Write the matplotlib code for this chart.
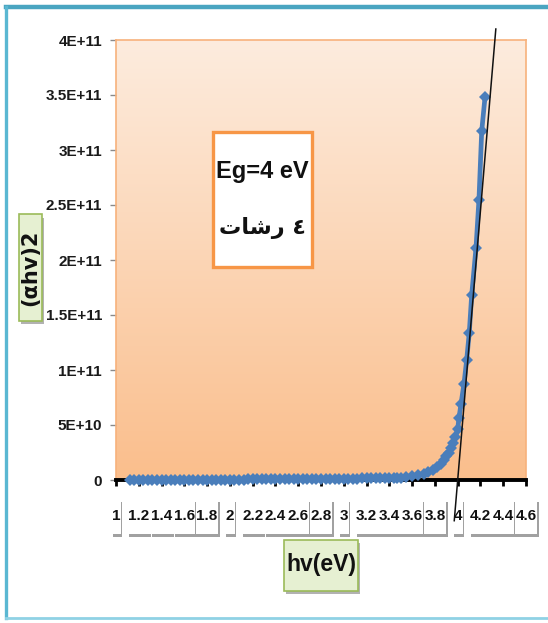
import numpy as np
import matplotlib
matplotlib.use("Agg")
import matplotlib.pyplot as plt
import matplotlib.font_manager as fm
import matplotlib.patheffects as pe
from matplotlib.path import Path
from matplotlib.patches import Rectangle
from matplotlib.lines import Line2D
from matplotlib import transforms

# ---- data -------------------------------------------------------------
photon_energy_ev = [
    1.12, 1.16, 1.20, 1.24, 1.28, 1.32, 1.36, 1.40, 1.44, 1.48,
    1.52, 1.56, 1.60, 1.64, 1.68, 1.72, 1.76, 1.80, 1.84, 1.88,
    1.92, 1.96, 2.00, 2.04, 2.08, 2.12, 2.16, 2.20, 2.24, 2.28,
    2.32, 2.36, 2.40, 2.44, 2.48, 2.52, 2.56, 2.60, 2.64, 2.68,
    2.72, 2.76, 2.80, 2.84, 2.88, 2.92, 2.96, 3.00, 3.04, 3.08,
    3.12, 3.16, 3.20, 3.24, 3.28, 3.32, 3.36, 3.40, 3.44, 3.47,
    3.50, 3.55, 3.60, 3.65, 3.70, 3.74, 3.78, 3.82, 3.85, 3.88,
    3.90, 3.92, 3.94, 3.96, 3.98, 4.00, 4.011, 4.029, 4.055, 4.079,
    4.102, 4.123, 4.161, 4.187, 4.211, 4.240,
]
alpha_hv_squared = [
    3.0e8, 3.0e8, 3.0e8, 3.0e8, 3.0e8, 3.0e8, 3.0e8, 3.0e8, 3.0e8, 3.0e8,
    3.0e8, 3.0e8, 3.0e8, 3.0e8, 3.0e8, 3.0e8, 3.5e8, 3.5e8, 3.5e8, 3.5e8,
    4.0e8, 4.0e8, 4.0e8, 4.5e8, 4.5e8, 4.5e8, 5.0e8, 5.0e8, 5.0e8, 5.5e8,
    5.5e8, 6.0e8, 6.0e8, 6.5e8, 6.5e8, 7.0e8, 7.0e8, 7.5e8, 7.5e8, 8.0e8,
    8.5e8, 9.0e8, 9.5e8, 1.0e9, 1.0e9, 1.1e9, 1.1e9, 1.2e9, 1.2e9, 1.3e9,
    1.3e9, 1.4e9, 1.4e9, 1.5e9, 1.5e9, 1.6e9, 1.7e9, 1.8e9, 1.9e9, 2.0e9,
    2.1e9, 2.6e9, 3.3e9, 4.2e9, 5.5e9, 7.0e9, 9.0e9, 1.15e10, 1.45e10, 1.85e10,
    2.15e10, 2.5e10, 2.95e10, 3.4e10, 3.9e10, 4.6e10, 5.6e10, 6.9e10, 8.7e10, 1.09e11,
    1.34e11, 1.68e11, 2.11e11, 2.55e11, 3.17e11, 3.48e11,
]

# linear fit of the absorption edge (extrapolated to the energy axis)
tangent_hv = [3.97, 4.335]
tangent_val = [-3.7e10, 4.10e11]

x_ticks = [1.0, 1.2, 1.4, 1.6, 1.8, 2.0, 2.2, 2.4, 2.6, 2.8,
           3.0, 3.2, 3.4, 3.6, 3.8, 4.0, 4.2, 4.4, 4.6]
x_tick_labels = ["1", "1.2", "1.4", "1.6", "1.8", "2", "2.2", "2.4", "2.6", "2.8",
                 "3", "3.2", "3.4", "3.6", "3.8", "4", "4.2", "4.4", "4.6"]
y_ticks = [0, 5e10, 1e11, 1.5e11, 2e11, 2.5e11, 3e11, 3.5e11, 4e11]
y_tick_labels = ["0", "5E+10", "1E+11", "1.5E+11", "2E+11", "2.5E+11",
                 "3E+11", "3.5E+11", "4E+11"]

gap_text = "Eg=4 eV"
# "٤ رشات" written in shaped presentation forms, laid out left to right
coats_text = "\uFE95\uFE8E\uFEB7\uFEAD \u0664"
x_title = "hv(eV)"
y_title = "(\u03b1hv)2"

# ---- fonts ------------------------------------------------------------
available = {f.name for f in fm.fontManager.ttflist}
label_family = "Liberation Sans" if "Liberation Sans" in available else "DejaVu Sans"


def lfp(size):
    return fm.FontProperties(family=label_family, weight="bold", size=size)


def make_box(padx, pady):
    """Rectangular text box with separate horizontal/vertical padding (pixels)."""
    def box(x0, y0, width, height, mutation_size):
        xa, xb = x0 - padx, x0 + width + padx
        ya, yb = y0 - pady, y0 + height + pady
        return Path([(xa, ya), (xb, ya), (xb, yb), (xa, yb), (xa, ya)], closed=True)
    return box


W, H = 548, 623
fig = plt.figure(figsize=(W / 100, H / 100), dpi=100)
fig.patch.set_facecolor("white")

ax = fig.add_axes([116 / W, 1 - 480 / H, 410 / W, 440 / H])

# gradient plot area
top_c = np.array([253, 236, 222]) / 255
bot_c = np.array([250, 190, 140]) / 255
t = np.linspace(0, 1, 256)[:, None]
grad = (top_c[None, :] * (1 - t) + bot_c[None, :] * t)[:, None, :]
ax.imshow(grad, extent=[0, 1, 0, 1], transform=ax.transAxes, aspect="auto",
          zorder=0, interpolation="bilinear")

ax.plot(photon_energy_ev, alpha_hv_squared, color="#4a7ebb", lw=3.4,
        marker="D", markersize=6.0, markeredgewidth=0, zorder=6, clip_on=False)
ax.plot(tangent_hv, tangent_val, color="#111111", lw=1.1, zorder=7, clip_on=False)

ax.set_xlim(1, 4.6)
ax.set_ylim(0, 4e11)

ax.set_yticks(y_ticks)
ax.set_yticklabels(y_tick_labels, fontproperties=lfp(11), color="#1a1a1a")
ax.tick_params(axis="y", direction="out", length=4, width=1, color="#8a8a8a", pad=6)

ax.set_xticks(x_ticks)
ax.tick_params(axis="x", direction="out", length=4, width=2, color="black",
               labelbottom=False)

for side in ("top", "right", "left"):
    ax.spines[side].set_color("#f7b27c")
    ax.spines[side].set_linewidth(1.2)
ax.spines["bottom"].set_color("black")
ax.spines["bottom"].set_linewidth(2.8)
ax.spines["bottom"].set_zorder(5)

# x tick labels in white boxes with a drop shadow
blend = transforms.blended_transform_factory(ax.transData, ax.transAxes)
for xv, lab in zip(x_ticks, x_tick_labels):
    txt = ax.text(xv, -0.082, lab, transform=blend, ha="center", va="center",
                  fontproperties=lfp(11), color="#111111",
                  bbox=dict(boxstyle=make_box(0.6, 10.5), facecolor="white",
                            edgecolor="none"))
    txt.get_bbox_patch().set_path_effects([
        pe.SimplePatchShadow(offset=(1, -2.5), shadow_rgbFace="#555555", alpha=0.55),
        pe.Normal()])

# axis titles in green boxes
green_face = "#e6f0d2"
green_edge = "#9bbb59"
xt = fig.text(321 / W, 1 - 565 / H, x_title, ha="center", va="center",
              fontproperties=lfp(16.5), color="#111111",
              bbox=dict(boxstyle=make_box(2, 14), facecolor=green_face,
                        edgecolor=green_edge, linewidth=1.2))
xt.get_bbox_patch().set_path_effects([
    pe.SimplePatchShadow(offset=(1.5, -2.5), shadow_rgbFace="#666666", alpha=0.5),
    pe.Normal()])

yt = fig.text(30.5 / W, 1 - 267.5 / H, y_title, ha="center", va="center",
              rotation=90, fontfamily="DejaVu Sans", fontweight="bold",
              fontsize=15, color="#111111",
              bbox=dict(boxstyle=make_box(15, 1.5), facecolor=green_face,
                        edgecolor=green_edge, linewidth=1.2))
yt.get_bbox_patch().set_path_effects([
    pe.SimplePatchShadow(offset=(1.5, -2.5), shadow_rgbFace="#666666", alpha=0.5),
    pe.Normal()])

# annotation box
fig.patches.append(Rectangle((213 / W, 1 - 267 / H), 99 / W, 135 / H,
                             transform=fig.transFigure, facecolor="white",
                             edgecolor="#f79646", linewidth=2.4, zorder=6))
fig.text(262.5 / W, 1 - 172 / H, gap_text, ha="center", va="center",
         fontproperties=lfp(17), color="#111111", zorder=7)
fig.text(262.5 / W, 1 - 228 / H, coats_text, ha="center", va="center",
         fontfamily="DejaVu Sans", fontweight="bold", fontsize=16, color="#111111",
         zorder=7)

# outer frame
fig.lines.append(Line2D([6 / W, 1.0], [1 - 7 / H, 1 - 7 / H], transform=fig.transFigure,
                        color="#4aa5c1", lw=3.2))
fig.lines.append(Line2D([6 / W, 6 / W], [1 - 7 / H, 1 - 618 / H], transform=fig.transFigure,
                        color="#5ab7d2", lw=2.4))
fig.lines.append(Line2D([6 / W, 1.0], [1 - 618 / H, 1 - 618 / H], transform=fig.transFigure,
                        color="#8fd2e5", lw=2.0))

fig.savefig("out.png", dpi=100)
